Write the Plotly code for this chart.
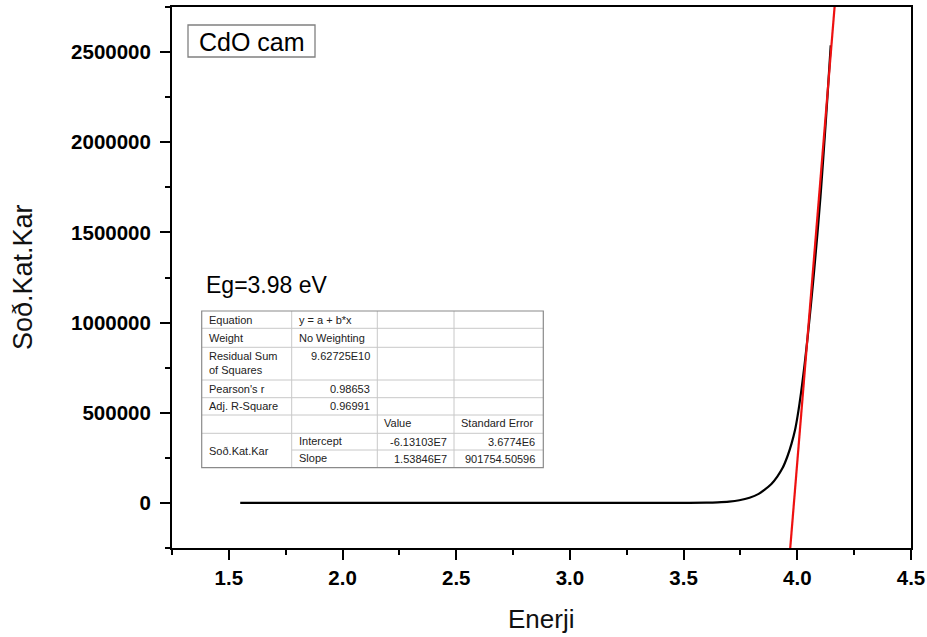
import plotly.graph_objects as go

# ---------------- data ----------------
energy = [1.55, 2.0, 2.5, 3.0, 3.3, 3.5, 3.6, 3.65, 3.70, 3.745, 3.79, 3.83, 3.855, 3.886,
          3.912, 3.935, 3.956, 3.974, 3.990, 4.001, 4.010, 4.0205, 4.029, 4.035, 4.0455,
          4.060, 4.075, 4.089, 4.102, 4.1135, 4.1245, 4.135, 4.147]
absorb = [0, 0, 0, 50, 200, 600, 1500, 3500, 7500, 15000, 29000, 50000, 72000, 105000,
          146000, 193000, 256000, 326000, 404000, 480000, 553000, 650000, 736000, 800000,
          920000, 1100000, 1300000, 1500000, 1700000, 1900000, 2100000, 2300000, 2537000]

fit_intercept = -6.13103e7
fit_slope = 1.53846e7
fit_x = [3.95, 4.17]

x_ticks = [1.5, 2.0, 2.5, 3.0, 3.5, 4.0, 4.5]
y_ticks = [0, 500000, 1000000, 1500000, 2000000, 2500000]

sample_label = "CdO cam"
gap_label = "Eg=3.98 eV"
x_title = "Enerji"
y_title = "Soð.Kat.Kar"

row_labels = ["Equation", "Weight", "Residual Sum<br>of Squares", "Pearson's r", "Adj. R-Square"]
row_values = ["y = a + b*x", "No Weighting", "9.62725E10", "0.98653", "0.96991"]
col_headers = ["Value", "Standard Error"]
param_group = "Soð.Kat.Kar"
param_names = ["Intercept", "Slope"]
param_values = ["-6.13103E7", "1.53846E7"]
param_errors = ["3.6774E6", "901754.50596"]

# ---------------- layout helpers ----------------
W, H = 927, 637
L, R, T, B = 172, 911, 7, 548


def px(x):
    return (x - L) / (R - L)


def py(y):
    return (B - y) / (B - T)


fig = go.Figure()

fig.add_trace(go.Scatter(x=energy, y=absorb, mode="lines",
                         line=dict(color="black", width=2.2, shape="spline", smoothing=1.0),
                         showlegend=False, hoverinfo="skip"))

fit_y = [fit_intercept + fit_slope * v for v in fit_x]
fig.add_trace(go.Scatter(x=fit_x, y=fit_y, mode="lines",
                         line=dict(color="#ee1111", width=2.2),
                         showlegend=False, hoverinfo="skip"))

tickfont = dict(family="Liberation Sans, Arial, sans-serif", size=20.5, color="black", weight="bold")

fig.update_xaxes(range=[1.25, 4.5], tickvals=x_ticks, ticktext=[f"{v:.1f}" for v in x_ticks],
                 showline=True, linecolor="black", linewidth=2, mirror=True, automargin=False,
                 ticks="outside", ticklen=10, tickwidth=2, tickcolor="black",
                 minor=dict(dtick=0.25, tick0=1.25, ticks="outside", ticklen=5, tickwidth=2,
                            tickcolor="black"),
                 showgrid=False, zeroline=False, tickfont=tickfont)
fig.update_yaxes(range=[-250000, 2750000], tickvals=y_ticks, ticktext=[str(v) for v in y_ticks],
                 showline=True, linecolor="black", linewidth=2, mirror=True, automargin=False,
                 ticks="outside", ticklen=10, tickwidth=2, tickcolor="black",
                 ticklabelstandoff=5,
                 minor=dict(dtick=250000, tick0=-250000, ticks="outside", ticklen=5, tickwidth=2,
                            tickcolor="black"),
                 showgrid=False, zeroline=False, tickfont=tickfont)

shapes = []
annotations = []
font_main = "Liberation Sans, Arial, sans-serif"

# axis titles
annotations.append(dict(x=px(541), y=py(619), xref="paper", yref="paper", text=x_title,
                        showarrow=False, xanchor="center", yanchor="middle",
                        font=dict(family=font_main, size=26, color="#111")))
annotations.append(dict(x=px(23), y=py(277), xref="paper", yref="paper", text=y_title,
                        showarrow=False, xanchor="center", yanchor="middle", textangle=-90,
                        font=dict(family=font_main, size=27, color="#111")))

# sample label box
shapes.append(dict(type="rect", xref="paper", yref="paper", x0=px(188), x1=px(315),
                   y0=py(57), y1=py(25), line=dict(color="#808080", width=1.3),
                   fillcolor="white"))
annotations.append(dict(x=px(251.5), y=py(41.5), xref="paper", yref="paper", text=sample_label,
                        showarrow=False, xanchor="center", yanchor="middle",
                        font=dict(family=font_main, size=25, color="black")))

# band gap label
annotations.append(dict(x=px(204), y=py(285), xref="paper", yref="paper", text=gap_label,
                        showarrow=False, xanchor="left", yanchor="middle",
                        font=dict(family=font_main, size=23, color="black")))

# fit table
cols = [201.7, 291.7, 377.3, 454, 543.3]
rows = [311, 328.3, 347.3, 380, 397.7, 415, 433.3, 450, 467.7]
grid = dict(color="#c8c8c8", width=1)
shapes.append(dict(type="rect", xref="paper", yref="paper", x0=px(cols[0]), x1=px(cols[-1]),
                   y0=py(rows[-1]), y1=py(rows[0]), line=dict(width=0), fillcolor="white",
                   layer="above"))
for i, yv in enumerate(rows[1:-1], start=1):
    x_start = cols[1] if i == 7 else cols[0]
    shapes.append(dict(type="line", xref="paper", yref="paper", x0=px(x_start), x1=px(cols[-1]),
                       y0=py(yv), y1=py(yv), line=grid))
for xv in cols[1:-1]:
    shapes.append(dict(type="line", xref="paper", yref="paper", x0=px(xv), x1=px(xv),
                       y0=py(rows[0]), y1=py(rows[-1]), line=grid))
shapes.append(dict(type="rect", xref="paper", yref="paper", x0=px(cols[0]), x1=px(cols[-1]),
                   y0=py(rows[-1]), y1=py(rows[0]), line=dict(color="#8a8a8a", width=1.2)))

tfont = dict(family=font_main, size=11, color="#222")


def cell_text(text, xpix, ypix, anchor, valign="middle"):
    annotations.append(dict(x=px(xpix), y=py(ypix), xref="paper", yref="paper", text=text,
                            showarrow=False, xanchor=anchor, yanchor=valign, font=tfont,
                            align=anchor if anchor != "center" else "center"))


for i, (lab, val) in enumerate(zip(row_labels, row_values)):
    top, bot = rows[i], rows[i + 1]
    if i == 2:
        cell_text(lab, cols[0] + 5, top + 1, "left", "top")
        cell_text(val, cols[2] - 5, top + 1, "right", "top")
    else:
        mid = (top + bot) / 2
        cell_text(lab, cols[0] + 5, mid, "left")
        if i < 2:
            cell_text(val, cols[1] + 5, mid, "left")
        else:
            cell_text(val, cols[2] - 5, mid, "right")

hdr_mid = (rows[5] + rows[6]) / 2
cell_text(col_headers[0], cols[2] + 5, hdr_mid - 1, "left")
cell_text(col_headers[1], cols[3] + 5, hdr_mid - 1, "left")
cell_text(param_group, cols[0] + 5, (rows[6] + rows[8]) / 2, "left")
for j in range(2):
    mid = (rows[6 + j] + rows[7 + j]) / 2
    cell_text(param_names[j], cols[1] + 5, mid - 1, "left")
    cell_text(param_values[j], cols[3] - 5, mid, "right")
    cell_text(param_errors[j], cols[4] - 6, mid, "right")

fig.update_layout(width=W, height=H, margin=dict(l=L, r=W - R, t=T, b=H - B),
                  paper_bgcolor="white", plot_bgcolor="white",
                  shapes=shapes, annotations=annotations, showlegend=False)

fig.write_html("out.html", config={"displayModeBar": False},
               post_script="document.body.style.margin='0';")
